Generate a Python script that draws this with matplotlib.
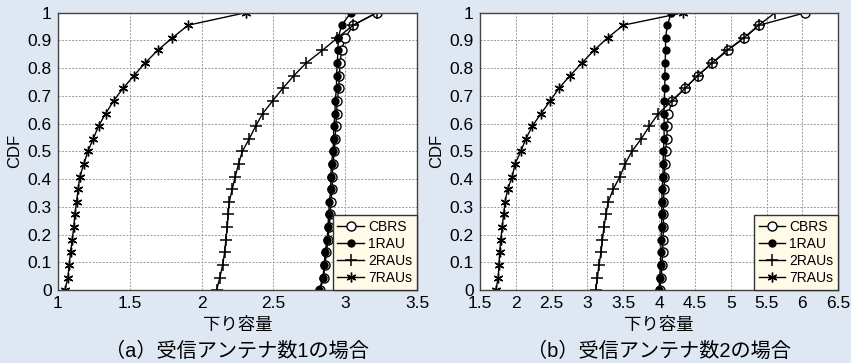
import matplotlib
matplotlib.use("Agg")
import matplotlib.pyplot as plt

plt.rcParams['font.family'] = ['Liberation Sans', 'Noto Sans CJK JP', 'DejaVu Sans']

# CDF levels shared by all series
cdf = [0.0, 0.045, 0.091, 0.136, 0.182, 0.227, 0.273, 0.318, 0.364, 0.409, 0.455, 0.5,
       0.545, 0.591, 0.636, 0.682, 0.727, 0.773, 0.818, 0.864, 0.909, 0.955, 1.0]

# (a) one receive antenna
a_cbrs = [2.825, 2.85, 2.86, 2.87, 2.88, 2.89, 2.895, 2.90, 2.91, 2.91, 2.915, 2.925,
          2.93, 2.935, 2.94, 2.945, 2.955, 2.96, 2.965, 2.975, 3.0, 3.056, 3.22]
a_1rau = [2.82, 2.845, 2.855, 2.86, 2.875, 2.88, 2.885, 2.89, 2.90, 2.90, 2.905, 2.915,
          2.92, 2.92, 2.93, 2.93, 2.94, 2.94, 2.945, 2.95, 2.952, 2.975, 3.04]
a_2rau = [2.105, 2.128, 2.147, 2.161, 2.170, 2.179, 2.186, 2.193, 2.214, 2.235, 2.258, 2.284,
          2.332, 2.377, 2.425, 2.495, 2.565, 2.643, 2.727, 2.841, 2.945, 3.056, 3.22]
a_7rau = [1.049, 1.070, 1.079, 1.088, 1.100, 1.111, 1.118, 1.130, 1.141, 1.153, 1.181, 1.209,
          1.246, 1.283, 1.332, 1.388, 1.453, 1.529, 1.606, 1.694, 1.796, 1.907, 2.307]

# (b) two receive antennas
b_cbrs = [4.01, 4.03, 4.04, 4.05, 4.055, 4.06, 4.06, 4.06, 4.07, 4.075, 4.08, 4.09,
          4.107, 4.115, 4.13, 4.18, 4.36, 4.54, 4.745, 4.955, 5.19, 5.40, 6.04]
b_1rau = [4.0, 4.01, 4.02, 4.025, 4.025, 4.035, 4.035, 4.04, 4.04, 4.055, 4.055, 4.06,
          4.07, 4.07, 4.07, 4.07, 4.08, 4.08, 4.085, 4.09, 4.09, 4.115, 4.17]
b_2rau = [3.115, 3.14, 3.16, 3.19, 3.21, 3.23, 3.26, 3.29, 3.36, 3.455, 3.525, 3.62,
          3.75, 3.865, 3.99, 4.18, 4.36, 4.54, 4.735, 4.945, 5.18, 5.39, 5.62]
b_7rau = [1.72, 1.756, 1.765, 1.775, 1.79, 1.81, 1.83, 1.85, 1.887, 1.95, 1.99, 2.07,
          2.14, 2.23, 2.35, 2.48, 2.60, 2.757, 2.92, 3.09, 3.28, 3.50, 4.34]

labels = ["CBRS", "1RAU", "2RAUs", "7RAUs"]
a_ticks = [1, 1.5, 2, 2.5, 3, 3.5]
b_ticks = [1.5, 2, 2.5, 3, 3.5, 4, 4.5, 5, 5.5, 6, 6.5]
y_ticks = [0, 0.1, 0.2, 0.3, 0.4, 0.5, 0.6, 0.7, 0.8, 0.9, 1]
xlabel = "下り容量"
titles = ["（a）受信アンテナ数1の場合", "（b）受信アンテナ数2の場合"]

bg = "#dfe7f3"
fig = plt.figure(figsize=(8.51, 3.63), dpi=100, facecolor=bg)
ax1 = fig.add_axes([0.068, 0.201, 0.422, 0.764])
ax2 = fig.add_axes([0.564, 0.201, 0.421, 0.764])

def fmt(v):
    return ("%g" % v)

def draw(ax, series, xt, title):
    cb, r1, r2, r7 = series
    ax.plot(cb, cdf, color="black", lw=1, marker="o", ms=6.5, mfc="white", mec="black", mew=1, label=labels[0])
    ax.plot(r1, cdf, color="black", lw=1, marker="o", ms=5, mfc="black", mec="black", label=labels[1])
    ax.plot(r2, cdf, color="black", lw=1, marker="+", ms=9, mew=1.1, label=labels[2])
    ax.plot(r7, cdf, color="black", lw=1, marker=(6, 2, 0), ms=7, mew=1.0, label=labels[3])
    ax.set_xlim(xt[0], xt[-1])
    ax.set_ylim(0, 1)
    ax.set_xticks(xt)
    ax.set_xticklabels([fmt(v) for v in xt])
    ax.set_yticks(y_ticks)
    ax.set_yticklabels([fmt(v) for v in y_ticks])
    ax.tick_params(length=0, labelsize=12.5, pad=4.5)
    ax.grid(True, color="#9a9a9a", ls=(0, (2, 1.5)), lw=0.7)
    for s in ax.spines.values():
        s.set_color("#444444")
        s.set_linewidth(1)
    ax.set_facecolor("white")
    ax.set_xlabel(xlabel, fontsize=12.5, labelpad=4)
    ax.set_ylabel("CDF", fontsize=12, labelpad=4)
    ax.text(0.5, -0.222, title, transform=ax.transAxes, ha="center", va="center", fontsize=14.5)
    leg = ax.legend(loc="lower right", borderaxespad=0, fontsize=10, frameon=True, fancybox=False,
                    handlelength=1.9, handletextpad=0.3, labelspacing=0.22, borderpad=0.35)
    leg.get_frame().set_facecolor("#fffbe8")
    leg.get_frame().set_edgecolor("#333333")
    leg.get_frame().set_alpha(1)

draw(ax1, (a_cbrs, a_1rau, a_2rau, a_7rau), a_ticks, titles[0])
draw(ax2, (b_cbrs, b_1rau, b_2rau, b_7rau), b_ticks, titles[1])

fig.savefig("out.png", dpi=100, facecolor=bg)
